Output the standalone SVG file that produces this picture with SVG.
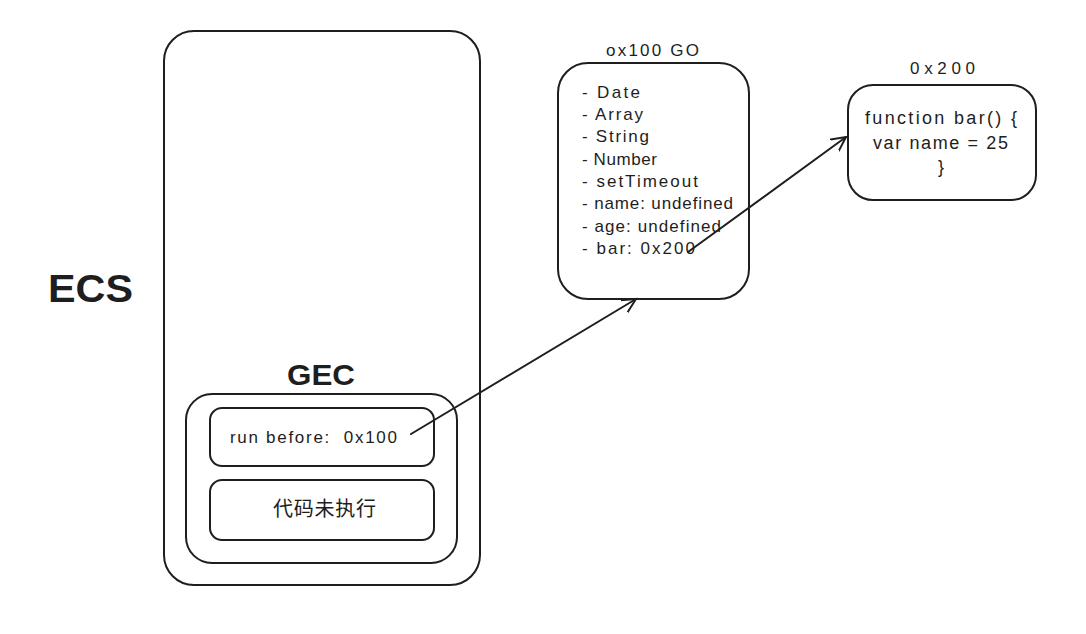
<svg xmlns="http://www.w3.org/2000/svg" width="1086" height="634" viewBox="0 0 1086 634">
<style>
.box{fill:#fff;stroke:#1e1e1e;stroke-width:2}
.t{font-family:"Liberation Sans","Noto Sans CJK SC",sans-serif;fill:#1e1e1e}
.lbl{font-size:17px}
.big{font-size:38px;font-weight:bold}
.conn{stroke:#1e1e1e;stroke-width:2;fill:none;stroke-linecap:round}
</style>
<defs>
<marker id="ah" markerWidth="20" markerHeight="20" refX="14" refY="10" orient="auto" markerUnits="userSpaceOnUse">
<path d="M0,3 L14,10 L0,17" fill="none" stroke="#1e1e1e" stroke-width="2" stroke-linecap="round"/>
</marker>
</defs>
<rect width="1086" height="634" fill="#fff"/>
<g id="ecs">
<rect class="box" x="164" y="31" width="316" height="554" rx="30"/>
</g>
<g id="ecs-label">
<text class="t big" x="48" y="302" textLength="85" lengthAdjust="spacingAndGlyphs">ECS</text>
</g>
<g id="gec">
<text class="t" x="287" y="385" font-size="30" font-weight="bold" textLength="68" lengthAdjust="spacingAndGlyphs">GEC</text>
<rect class="box" x="186" y="394" width="271" height="169" rx="26"/>
</g>
<g id="run-before">
<rect class="box" x="210" y="408" width="224" height="58" rx="12"/>
<text class="t" font-size="17" x="230" y="443" xml:space="preserve" textLength="167">run before:  0x100</text>
</g>
<g id="not-run">
<rect class="box" x="210" y="480" width="224" height="60" rx="12"/>
<text class="t" x="273" y="516" font-size="20" textLength="103">代码未执行</text>
</g>
<g id="go">
<text class="t lbl" x="606" y="56" textLength="93">ox100 GO</text>
<rect class="box" x="558" y="63" width="191" height="236" rx="30"/>
<text class="t lbl" x="582" y="98" textLength="58">- Date</text>
<text class="t lbl" x="582" y="120" textLength="61">- Array</text>
<text class="t lbl" x="582" y="142" textLength="67">- String</text>
<text class="t lbl" x="582" y="165" textLength="75">- Number</text>
<text class="t lbl" x="582" y="187" textLength="116">- setTimeout</text>
<text class="t lbl" x="582" y="209" textLength="151">- name: undefined</text>
<text class="t lbl" x="582" y="232" textLength="139">- age: undefined</text>
<text class="t lbl" x="582" y="254" textLength="113">- bar: 0x200</text>
</g>
<g id="fn">
<text class="t lbl" x="910" y="74" textLength="65">0x200</text>
<rect class="box" x="848" y="85" width="188" height="115" rx="25"/>
<text class="t" x="865" y="124" font-size="18" textLength="152">function bar() {</text>
<text class="t" x="873" y="149" font-size="18" textLength="135">var name = 25</text>
<text class="t" x="941" y="173" text-anchor="middle" font-size="18">}</text>
</g>
<g id="connectors">
<path class="conn" d="M411,434 L636,299" marker-end="url(#ah)"/>
<path class="conn" d="M688,252 L846,137" marker-end="url(#ah)"/>
</g>
</svg>
